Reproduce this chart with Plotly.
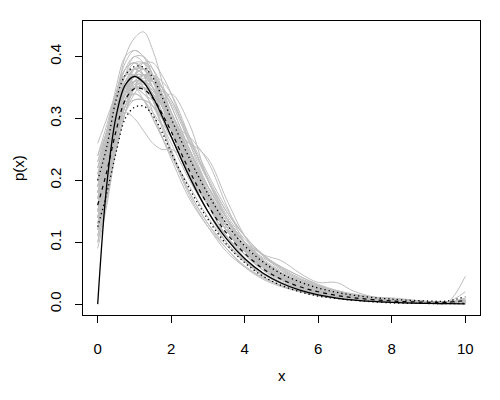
import plotly.graph_objects as go

x_grid = [0, 0.25, 0.5, 0.75, 1, 1.25, 1.5, 1.75, 2, 2.5, 3, 3.5, 4, 4.5, 5, 5.5, 6, 6.5, 7, 8, 9, 9.5, 10]

grey_curves = [
    [.19, .25, .32, .36, .37, .36, .34, .31, .28, .22, .16, .12, .08, .06, .04, .03, .02, .015, .01, .005, .003, .003, .008],
    [.22, .28, .35, .40, .41, .40, .37, .33, .29, .22, .17, .12, .085, .06, .045, .03, .02, .012, .008, .004, .002, .002, .004],
    [.14, .20, .27, .31, .33, .33, .32, .30, .27, .21, .16, .12, .09, .065, .045, .03, .02, .015, .01, .005, .003, .002, .003],
    [.26, .30, .34, .37, .38, .37, .35, .32, .28, .21, .15, .11, .08, .055, .035, .025, .018, .012, .008, .004, .002, .002, .010],
    [.10, .17, .26, .33, .37, .39, .38, .35, .31, .24, .18, .13, .09, .06, .04, .027, .018, .012, .008, .004, .002, .002, .003],
    [.16, .24, .33, .40, .43, .44, .41, .36, .30, .22, .16, .11, .075, .05, .035, .025, .018, .013, .009, .005, .003, .003, .006],
    [.12, .19, .27, .32, .34, .33, .31, .29, .28, .26, .20, .14, .09, .06, .04, .03, .02, .015, .01, .005, .002, .002, .003],
    [.18, .24, .30, .34, .35, .34, .33, .33, .34, .29, .20, .14, .09, .065, .05, .035, .025, .018, .012, .006, .003, .003, .005],
    [.20, .26, .32, .35, .36, .35, .33, .31, .29, .23, .18, .14, .10, .075, .06, .045, .03, .02, .013, .006, .003, .003, .006],
    [.15, .22, .30, .35, .38, .38, .36, .33, .29, .22, .16, .11, .07, .045, .03, .02, .014, .01, .007, .003, .002, .002, .004],
    [.21, .27, .33, .37, .39, .39, .37, .34, .30, .23, .17, .12, .085, .06, .042, .03, .02, .014, .01, .004, .002, .002, .045],
    [.13, .20, .28, .33, .35, .35, .34, .31, .28, .22, .17, .13, .10, .08, .07, .05, .035, .035, .02, .006, .003, .003, .005],
    [.17, .23, .30, .34, .35, .34, .32, .29, .26, .20, .15, .11, .08, .06, .045, .035, .028, .02, .014, .007, .004, .003, .004],
    [.24, .29, .34, .37, .37, .36, .34, .31, .28, .22, .17, .12, .085, .055, .038, .026, .017, .012, .008, .004, .002, .002, .003],
    [.11, .18, .27, .33, .36, .37, .36, .34, .31, .25, .19, .14, .10, .07, .05, .035, .025, .016, .01, .005, .003, .003, .004],
    [.19, .26, .34, .39, .41, .40, .37, .33, .29, .21, .15, .10, .07, .05, .035, .025, .018, .013, .009, .004, .002, .002, .003],
    [.15, .21, .28, .32, .33, .33, .32, .30, .29, .27, .23, .16, .10, .065, .045, .03, .02, .015, .01, .005, .003, .003, .005],
    [.22, .27, .32, .35, .36, .36, .35, .33, .30, .24, .17, .12, .09, .07, .05, .03, .02, .015, .012, .01, .004, .003, .004],
    [.09, .16, .25, .31, .35, .37, .37, .35, .32, .25, .19, .14, .10, .07, .05, .037, .027, .02, .015, .008, .004, .003, .006],
    [.18, .25, .33, .38, .40, .39, .36, .32, .28, .21, .16, .12, .09, .065, .045, .03, .02, .014, .01, .005, .002, .002, .003],
    [.16, .22, .29, .33, .35, .35, .34, .32, .30, .24, .18, .13, .095, .07, .05, .033, .022, .015, .011, .006, .003, .003, .004],
    [.20, .25, .31, .34, .35, .35, .34, .32, .29, .23, .17, .125, .09, .065, .045, .03, .02, .014, .01, .005, .004, .003, .02],
    [.14, .21, .29, .34, .37, .38, .37, .34, .30, .23, .17, .12, .08, .055, .04, .03, .022, .015, .01, .006, .003, .003, .004],
    [.23, .28, .34, .38, .39, .38, .36, .33, .29, .22, .16, .11, .075, .05, .035, .026, .018, .012, .008, .004, .002, .002, .005],
    [.17, .24, .31, .36, .38, .37, .35, .32, .29, .23, .17, .125, .09, .065, .047, .033, .023, .016, .011, .006, .003, .003, .005],
    [.21, .26, .32, .36, .37, .37, .36, .34, .31, .24, .17, .12, .085, .06, .042, .03, .02, .015, .01, .005, .003, .002, .004],
    [.13, .19, .27, .33, .36, .37, .36, .33, .30, .235, .18, .135, .10, .07, .048, .033, .022, .015, .01, .005, .003, .003, .007],
    [.19, .25, .31, .35, .37, .37, .35, .32, .285, .215, .16, .12, .09, .068, .05, .035, .024, .016, .011, .005, .003, .003, .004],
    [.16, .23, .30, .35, .37, .38, .37, .35, .32, .25, .18, .125, .085, .058, .04, .028, .019, .013, .009, .004, .002, .002, .003],
    [.24, .28, .33, .36, .38, .38, .36, .33, .30, .23, .165, .12, .088, .063, .044, .03, .02, .014, .009, .004, .002, .002, .006],
    [.12, .19, .28, .34, .38, .39, .37, .33, .29, .22, .17, .13, .095, .068, .048, .034, .024, .016, .011, .006, .003, .003, .004],
    [.18, .23, .29, .33, .35, .36, .35, .33, .30, .235, .175, .13, .095, .07, .05, .036, .025, .017, .012, .006, .003, .003, .005],
    [.20, .27, .34, .38, .39, .38, .35, .31, .27, .21, .16, .12, .085, .06, .043, .032, .023, .016, .011, .005, .003, .003, .004],
    [.15, .22, .29, .34, .36, .36, .35, .33, .305, .245, .19, .14, .10, .07, .048, .033, .022, .015, .01, .005, .003, .003, .004],
    [.22, .27, .33, .37, .38, .37, .35, .325, .295, .225, .165, .12, .087, .065, .048, .034, .023, .015, .01, .005, .003, .003, .005],
    [.14, .20, .28, .34, .37, .38, .36, .335, .30, .235, .175, .125, .088, .062, .045, .032, .022, .015, .01, .005, .003, .003, .005],
    [.19, .24, .30, .34, .355, .355, .345, .325, .295, .23, .175, .13, .092, .066, .047, .033, .024, .017, .012, .006, .003, .003, .005],
    [.17, .23, .31, .37, .40, .40, .38, .34, .30, .225, .165, .12, .085, .06, .042, .03, .021, .015, .01, .005, .002, .002, .004],
    [.21, .26, .31, .345, .36, .36, .345, .32, .29, .225, .17, .125, .09, .065, .047, .034, .024, .017, .011, .005, .003, .003, .008],
    [.11, .18, .26, .32, .355, .365, .36, .34, .31, .245, .185, .135, .098, .07, .05, .035, .024, .016, .011, .006, .003, .003, .005],
    [.18, .24, .29, .31, .30, .28, .26, .25, .25, .23, .19, .14, .10, .07, .05, .035, .024, .016, .011, .006, .003, .003, .005],
    [.15, .21, .28, .33, .35, .35, .33, .30, .27, .26, .235, .17, .11, .07, .05, .035, .024, .016, .011, .006, .003, .003, .004],
    [.15, .22, .30, .35, .37, .36, .33, .29, .25, .18, .13, .09, .06, .04, .028, .02, .013, .009, .006, .003, .002, .002, .003],
    [.20, .27, .34, .37, .37, .35, .31, .27, .235, .17, .125, .09, .062, .043, .03, .02, .014, .01, .007, .003, .002, .002, .004],
    [.13, .21, .29, .33, .34, .33, .30, .27, .24, .18, .13, .095, .068, .048, .033, .022, .015, .01, .007, .003, .002, .002, .003],
    [.17, .25, .33, .38, .39, .37, .33, .285, .245, .175, .125, .085, .06, .042, .03, .021, .015, .01, .007, .003, .002, .002, .004],
    [.23, .28, .33, .35, .35, .33, .30, .27, .24, .19, .14, .10, .07, .048, .033, .023, .016, .011, .008, .004, .002, .002, .005],
    [.12, .18, .25, .31, .35, .37, .37, .36, .34, .27, .20, .145, .105, .078, .058, .042, .03, .021, .015, .008, .004, .003, .005],
    [.16, .22, .28, .33, .36, .37, .365, .35, .33, .265, .205, .15, .11, .08, .057, .04, .028, .019, .013, .007, .004, .003, .006],
    [.10, .17, .25, .31, .34, .36, .36, .35, .33, .27, .21, .155, .11, .078, .055, .04, .03, .022, .016, .008, .004, .003, .005],
    [.18, .23, .29, .34, .37, .39, .39, .37, .34, .26, .19, .14, .10, .073, .053, .038, .027, .019, .013, .007, .004, .003, .005],
    [.14, .20, .27, .32, .35, .36, .36, .345, .325, .26, .20, .15, .11, .08, .06, .045, .032, .022, .015, .008, .004, .003, .006],
]

true_density = [0, .1947, .3033, .3543, .3679, .3581, .3347, .3041, .2707, .2052, .1494, .1057, .0733, .0500, .0337,
                .0225, .0149, .0098, .0064, .0027, .0011, .0007, .0005]
mean_est = [.160, .215, .280, .330, .348, .347, .333, .308, .279, .215, .160, .115, .082, .057, .040, .028, .020, .014,
            .010, .005, .003, .003, .006]
upper_band = [.200, .255, .330, .370, .384, .383, .366, .335, .300, .235, .178, .130, .094, .068, .049, .036, .026, .019,
              .014, .008, .005, .005, .012]
lower_band = [.125, .180, .245, .300, .318, .320, .305, .278, .245, .186, .137, .097, .067, .045, .030, .020, .013, .009,
              .006, .002, .001, .001, .001]

x_ticks = [0, 2, 4, 6, 8, 10]
y_ticks = [0.0, 0.1, 0.2, 0.3, 0.4]
y_tick_labels = ["0.0", "0.1", "0.2", "0.3", "0.4"]

fig = go.Figure()
for g in grey_curves:
    fig.add_trace(go.Scatter(x=x_grid, y=g, mode="lines", line=dict(color="#BEBEBE", width=1, shape="spline"),
                             hoverinfo="skip", showlegend=False))
fig.add_trace(go.Scatter(x=x_grid, y=true_density, mode="lines", line=dict(color="black", width=1.3, shape="spline"),
                         showlegend=False))
fig.add_trace(go.Scatter(x=x_grid, y=mean_est, mode="lines",
                         line=dict(color="black", width=1.2, dash="4px,4px", shape="spline"), showlegend=False))
for b in (upper_band, lower_band):
    fig.add_trace(go.Scatter(x=x_grid, y=b, mode="lines",
                             line=dict(color="black", width=1.3, dash="1.3px,3px", shape="spline"), showlegend=False))

axis_font = dict(family="Liberation Sans, Arial, sans-serif", size=15, color="black")
fig.update_layout(
    width=492, height=392,
    margin=dict(l=75, r=20, t=13, b=85),
    paper_bgcolor="white", plot_bgcolor="white",
    font=axis_font,
    xaxis=dict(range=[-0.4, 10.4], tickvals=x_ticks, ticks="outside", ticklen=7, tickcolor="black",
               showline=True, mirror=True, linecolor="black", linewidth=1, showgrid=False, zeroline=False,
               automargin=False, tickfont=axis_font, ticklabelstandoff=13),
    yaxis=dict(range=[-0.0176, 0.4576], tickvals=y_ticks, ticktext=y_tick_labels, tickangle=-90,
               ticks="outside", ticklen=7, tickcolor="black",
               showline=True, mirror=True, linecolor="black", linewidth=1, showgrid=False, zeroline=False,
               automargin=False, tickfont=axis_font, ticklabelstandoff=8),
    annotations=[
        dict(text="x", xref="paper", yref="paper", x=0.5, y=0, yshift=-60, showarrow=False,
             font=axis_font, xanchor="center", yanchor="middle"),
        dict(text="p(x)", xref="paper", yref="paper", x=0, y=0.5, xshift=-65, showarrow=False,
             font=axis_font, textangle=-90, xanchor="center", yanchor="middle"),
    ],
)
fig.write_html("out.html")
